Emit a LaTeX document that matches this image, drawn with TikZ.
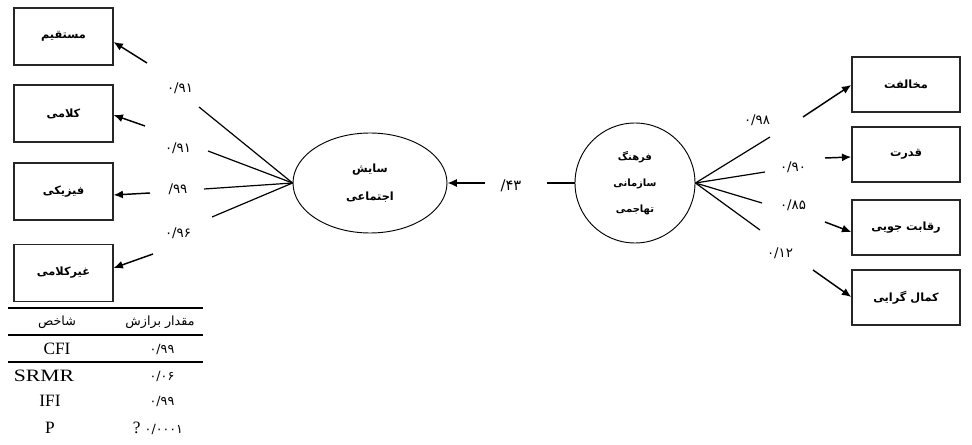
\documentclass[tikz,border=0pt]{standalone}
\usepackage{fontspec}
\setmainfont{Liberation Serif}
\newfontfamily\fa[Script=Arabic]{DejaVu Sans}
\TeXXeTstate=1
\usetikzlibrary{arrows.meta,shapes.geometric}
\begin{document}
\begin{tikzpicture}[x=0.75pt,y=-0.75pt,
  lbox/.style={draw=black!85,line width=1.1pt,minimum width=74pt,minimum height=43pt,inner sep=0pt,
    font=\fa\bfseries\fontsize{8.5}{10}\selectfont},
  rbox/.style={draw=black!85,line width=1.1pt,minimum width=81pt,minimum height=41pt,inner sep=0pt,
    font=\fa\bfseries\fontsize{8.5}{10}\selectfont},
  latent/.style={draw,line width=0.7pt,inner sep=0pt,align=center},
  path/.style={line width=0.9pt},
  arr/.style={line width=1.1pt,-{Latex[length=7pt,width=6pt]}},
  coef/.style={font=\fa\fontsize{10}{12}\selectfont,inner sep=1pt},
  tab/.style={font=\fontsize{13}{15}\selectfont,inner sep=0pt},
  tabfa/.style={font=\fa\fontsize{9.5}{11}\selectfont,inner sep=0pt},
  rule/.style={line width=0.9pt}]
\useasboundingbox (0,0) rectangle (972,445);

% left boxes
\node[lbox] (b1) at (63.5,36.5) {\beginR مستقیم\endR};
\node[lbox] (b2) at (63.5,113.5) {\beginR کلامی\endR};
\node[lbox] (b3) at (63.5,191.5) {\beginR فیزیکی\endR};
\node[lbox] (b4) at (63.5,273) {\beginR غیرکلامی\endR};

% latent variables
\node[latent,ellipse,minimum width=115.5pt,minimum height=75pt,font=\fa\bfseries\fontsize{8.5}{21}\selectfont] (ea) at (370,183) {\beginR سایش\endR\\\beginR اجتماعی\endR};
\node[latent,circle,minimum size=90pt,font=\fa\bfseries\fontsize{7.5}{19.5}\selectfont] (cf) at (635,183) {\beginR فرهنگ\endR\\\beginR سازمانی\endR\\\beginR تهاجمی\endR};

% right boxes
\node[rbox] (r1) at (906,84.5) {\beginR مخالفت\endR};
\node[rbox] (r2) at (906,154.5) {\beginR قدرت\endR};
\node[rbox] (r3) at (906,227.5) {\beginR رقابت جویی\endR};
\node[rbox] (r4) at (906,297.5) {\beginR کمال گرایی\endR};

% left path coordinates
\coordinate (l1) at (199,107);
\coordinate (l2) at (208,151);
\coordinate (l3) at (204,189);
\coordinate (l4) at (212,217);
\coordinate (a1) at (147,63);
\coordinate (a2) at (145,126);
\coordinate (a3) at (150,193);
\coordinate (a4) at (153,254);
\draw[path] (ea.west) -- (l1);
\draw[path] (ea.west) -- (l2);
\draw[path] (ea.west) -- (l3);
\draw[path] (ea.west) -- (l4);
\draw[arr] (a1) -- (b1.east |- 0,42);
\draw[arr] (a2) -- (b2.east |- 0,115);
\draw[arr] (a3) -- (b3.east |- 0,195);
\draw[arr] (a4) -- (b4.east |- 0,268);
\node[coef] (c1) at (180,88) {۰/۹۱};
\node[coef] (c2) at (178,148) {۰/۹۱};
\node[coef] (c3) at (178,189) {۹۹/};
\node[coef] (c4) at (178,233) {۰/۹۶};

% middle
\coordinate (m1) at (485,183);
\coordinate (m2) at (547,183);
\draw[arr] (m1) -- (ea.east);
\draw[path] (m2) -- (cf.west);
\node[coef,font=\fa\fontsize{11}{13}\selectfont] (c0) at (511,186) {۴۳/};

% right path coordinates
\coordinate (p1) at (770,137);
\coordinate (p2) at (765,172);
\coordinate (p3) at (762,203);
\coordinate (p4) at (760,230);
\coordinate (q1) at (803,117);
\coordinate (q2) at (825,158);
\coordinate (q3) at (825,222);
\coordinate (q4) at (813,270);
\draw[path] (cf.east) -- (p1);
\draw[path] (cf.east) -- (p2);
\draw[path] (cf.east) -- (p3);
\draw[path] (cf.east) -- (p4);
\draw[arr] (q1) -- (r1.west |- 0,85);
\draw[arr] (q2) -- (r2.west |- 0,157);
\draw[arr] (q3) -- (r3.west |- 0,232);
\draw[arr] (q4) -- (r4.west |- 0,297);
\node[coef] (d1) at (757,120) {۰/۹۸};
\node[coef] (d2) at (793,167) {۰/۹۰};
\node[coef] (d3) at (793,205) {۰/۸۵};
\node[coef] (d4) at (780,253) {۰/۱۲};

% fit table
\coordinate (t0l) at (8,308); \coordinate (t0r) at (203,308);
\coordinate (t1l) at (8,335); \coordinate (t1r) at (203,335);
\coordinate (t2l) at (8,362); \coordinate (t2r) at (203,362);
\draw[rule] (t0l) -- (t0r);
\draw[rule] (t1l) -- (t1r);
\draw[rule] (t2l) -- (t2r);
\node[tabfa] (h1) at (57,322) {\beginR شاخص\endR};
\node[tabfa] (h2) at (160,322) {\beginR مقدار برازش\endR};
\node[tab] (k1) at (57,349) {CFI};
\node[tab] (k2) at (44,376) {\scalebox{1.25}[1]{SRMR}};
\node[tab] (k3) at (50,401) {IFI};
\node[tab] (k4) at (50,428) {P};
\node[tabfa] (v1) at (162,349) {۰/۹۹};
\node[tabfa] (v2) at (162,376) {۰/۰۶};
\node[tabfa] (v3) at (162,401) {۰/۹۹};
\node[tabfa] (v4) at (158,428) {{\rmfamily\fontsize{13}{15}\selectfont ?}\ ۰/۰۰۰۱};
\end{tikzpicture}
\end{document}
